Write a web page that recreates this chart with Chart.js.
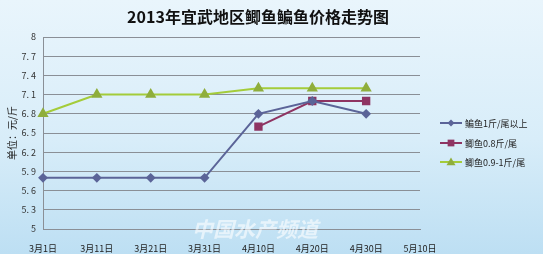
<!DOCTYPE html>
<html>
<head>
<meta charset="utf-8">
<script src="https://cdn.jsdelivr.net/npm/chart.js@4"></script>
<style>
  html, body { margin: 0; padding: 0; }
  body { width: 543px; height: 254px; overflow: hidden;
    background: linear-gradient(to bottom, #e9f5fc 0%, #d8edf9 55%, #bddff3 100%); }
  #wrap { position: relative; width: 543px; height: 254px; }
</style>
</head>
<body>
<div id="wrap"><canvas id="priceChart" width="543" height="254"></canvas></div>
<script>
  const labels = ["3月1日", "3月11日", "3月21日", "3月31日", "4月10日", "4月20日", "4月30日", "5月10日"];
  const bianyu = [5.8, 5.8, 5.8, 5.8, 6.8, 7.0, 6.8, null];
  const jiyu08 = [null, null, null, null, 6.6, 7.0, 7.0, null];
  const jiyu09 = [6.8, 7.1, 7.1, 7.1, 7.2, 7.2, 7.2, null];
  const yTicks = [5, 5.3, 5.6, 5.9, 6.2, 6.5, 6.8, 7.1, 7.4, 7.7, 8];

  const FONT = "'Noto Sans CJK SC', 'DejaVu Sans', sans-serif";

  // legend + title + watermark drawn by hand to match the Excel layout
  const decor = {
    id: "decor",
    afterDraw(chart) {
      const c = chart.ctx;
      c.save();
      c.fillStyle = "#111";
      c.font = "bold 16px " + FONT;
      c.textAlign = "center";
      c.textBaseline = "middle";
      c.fillText("2013年宜武地区鲫鱼鳊鱼价格走势图", 258, 17);

      c.font = "italic bold 21px " + FONT;
      c.fillStyle = "rgba(255,255,255,0.6)";
      c.fillText("中国水产频道", 255, 229);

      const rows = [123, 143, 162];
      chart.data.datasets.forEach(function (ds, i) {
        const y = rows[i];
        c.strokeStyle = ds.borderColor;
        c.lineWidth = 2;
        c.beginPath(); c.moveTo(440, y); c.lineTo(462, y); c.stroke();
        c.fillStyle = ds.pointBackgroundColor;
        const s = ds.pointRadius;
        c.beginPath();
        if (ds.pointStyle === "rectRot") {
          c.moveTo(451, y - s); c.lineTo(451 + s, y); c.lineTo(451, y + s); c.lineTo(451 - s, y);
        } else if (ds.pointStyle === "rect") {
          c.rect(451 - s * 0.75, y - s * 0.75, s * 1.5, s * 1.5);
        } else {
          c.moveTo(451, y - s); c.lineTo(451 + s, y + s * 0.7); c.lineTo(451 - s, y + s * 0.7);
        }
        c.closePath(); c.fill();
        c.fillStyle = "#222";
        c.font = "9px " + FONT;
        c.textAlign = "left";
        c.fillText(ds.label, 465, y + 0.5);
      });
      c.restore();
    }
  };

  new Chart(document.getElementById("priceChart"), {
    type: "line",
    data: {
      labels,
      datasets: [{
        label: "鳊鱼1斤/尾以上",
        data: bianyu,
        borderColor: "#5b6498",
        pointBackgroundColor: "#5b6498",
        pointBorderColor: "#5b6498",
        pointStyle: "rectRot",
        pointRadius: 3.5,
        borderWidth: 2,
        tension: 0
      }, {
        label: "鲫鱼0.8斤/尾",
        data: jiyu08,
        borderColor: "#8e3462",
        pointBackgroundColor: "#8e3462",
        pointBorderColor: "#8e3462",
        pointStyle: "rect",
        pointRadius: 4.5,
        borderWidth: 2,
        tension: 0
      }, {
        label: "鲫鱼0.9-1斤/尾",
        data: jiyu09,
        borderColor: "#a4cc3a",
        pointBackgroundColor: "#8fae3c",
        pointBorderColor: "#8fae3c",
        pointStyle: "triangle",
        pointRadius: 4.5,
        borderWidth: 2,
        tension: 0
      }]
    },
    options: {
      responsive: false,
      animation: false,
      layout: { padding: { top: 37, right: 123, left: 0, bottom: 0 } },
      plugins: { legend: { display: false }, title: { display: false }, tooltip: { enabled: false } },
      scales: {
        x: {
          offset: false,
          grid: { display: false },
          border: { display: true, color: "#8a8f96", width: 1 },
          ticks: { color: "#222", font: { family: FONT, size: 9 }, maxRotation: 0, autoSkip: false, padding: 6 },
          afterFit(s) { s.height = 25; }
        },
        y: {
          min: 5,
          max: 8,
          afterBuildTicks(s) { s.ticks = yTicks.map(function (v) { return { value: v }; }); },
          grid: { color: "#8a8f96", lineWidth: 1, drawTicks: false },
          border: { display: true, color: "#8a8f96", width: 1 },
          ticks: {
            color: "#333",
            font: { family: FONT, size: 9 },
            padding: 7,
            callback(v) { return Number.isInteger(v) ? String(v) : v.toFixed(1).replace(".", ". "); }
          },
          title: { display: true, text: "单位：元/斤", color: "#222", font: { family: FONT, size: 10 }, padding: { top: 6, bottom: 0 } },
          afterFit(s) { s.width = 43; }
        }
      }
    },
    plugins: [decor]
  });
</script>
</body>
</html>
